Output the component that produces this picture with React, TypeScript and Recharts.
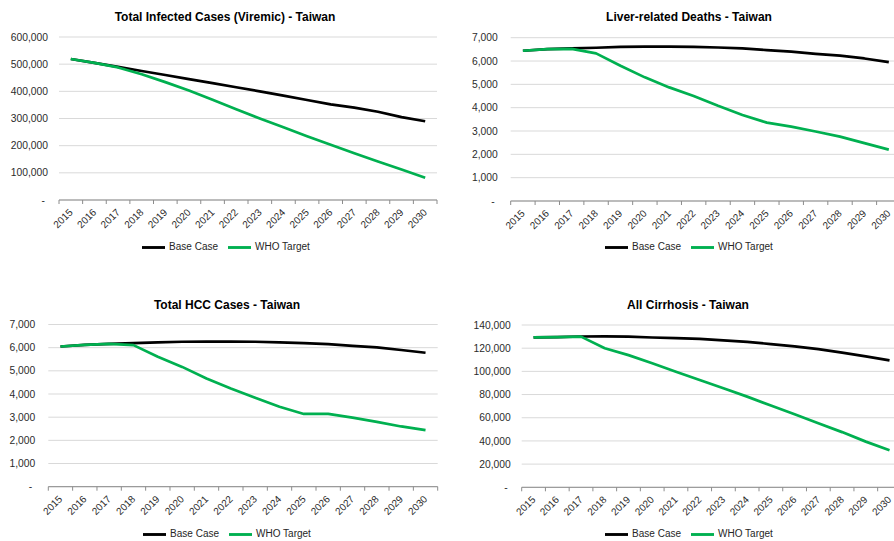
import React from 'react';
import { LineChart, Line, XAxis, YAxis, CartesianGrid, Legend } from 'recharts';

const years = ['2015', '2016', '2017', '2018', '2019', '2020', '2021', '2022', '2023', '2024', '2025', '2026', '2027', '2028', '2029', '2030'];

const infectedBase = [519000, 505000, 490000, 475000, 460000, 445000, 430000, 415000, 400000, 384000, 368000, 352000, 340000, 325000, 305000, 290000];
const infectedWho = [519000, 505000, 488000, 463000, 434000, 403000, 369000, 334000, 300000, 268000, 235000, 203000, 172000, 142000, 112000, 82000];

const deathsBase = [6440, 6510, 6540, 6570, 6610, 6620, 6620, 6610, 6580, 6540, 6470, 6400, 6310, 6230, 6110, 5950];
const deathsWho = [6440, 6510, 6520, 6330, 5800, 5300, 4870, 4500, 4080, 3690, 3360, 3190, 2980, 2760, 2480, 2200];

const hccBase = [6050, 6120, 6165, 6195, 6230, 6255, 6260, 6260, 6255, 6230, 6195, 6150, 6080, 6010, 5900, 5780];
const hccWho = [6050, 6120, 6165, 6110, 5610, 5170, 4670, 4240, 3840, 3450, 3140, 3140, 2980, 2800, 2600, 2440];

const cirrBase = [129300, 129500, 130100, 130200, 129900, 129200, 128600, 128100, 126800, 125500, 123500, 121600, 119200, 116100, 113000, 109500];
const cirrWho = [129300, 129600, 130000, 120000, 114000, 107000, 99700, 92500, 85400, 78200, 70500, 63000, 55200, 47600, 39400, 32000];

const infectedTicks = [0, 100000, 200000, 300000, 400000, 500000, 600000];
const deathsTicks = [0, 1000, 2000, 3000, 4000, 5000, 6000, 7000];
const hccTicks = [0, 1000, 2000, 3000, 4000, 5000, 6000, 7000];
const cirrTicks = [0, 20000, 40000, 60000, 80000, 100000, 120000, 140000];

const seriesNames = ['Base Case', 'WHO Target'];

const GREEN = '#00B050';
const AXIS = '#8c8c8c';
const GRID = '#d9d9d9';
const TEXT = '#2b2b2b';

type Panel = {
  title: string;
  base: number[];
  who: number[];
  ticks: number[];
  region: { left: number; top: number; width: number; height: number };
  plot: { left: number; right: number; top: number; bottom: number };
  yGap: number;
  titleCx: number;
  titleY: number;
  legendCx: number;
  legendY: number;
};

const panels: Panel[] = [
  {
    title: 'Total Infected Cases (Viremic) - Taiwan',
    base: infectedBase,
    who: infectedWho,
    ticks: infectedTicks,
    region: { left: 0, top: 0, width: 445, height: 270 },
    plot: { left: 59, right: 437, top: 37, bottom: 200 },
    yGap: 11,
    titleCx: 225,
    titleY: 17,
    legendCx: 231,
    legendY: 247,
  },
  {
    title: 'Liver-related Deaths - Taiwan',
    base: deathsBase,
    who: deathsWho,
    ticks: deathsTicks,
    region: { left: 444, top: 0, width: 460, height: 270 },
    plot: { left: 510.7, right: 901, top: 37.7, bottom: 201 },
    yGap: 13,
    titleCx: 689,
    titleY: 17,
    legendCx: 694,
    legendY: 247,
  },
  {
    title: 'Total HCC Cases - Taiwan',
    base: hccBase,
    who: hccWho,
    ticks: hccTicks,
    region: { left: 0, top: 285, width: 445, height: 256 },
    plot: { left: 48.3, right: 437.7, top: 324.5, bottom: 486.7 },
    yGap: 13,
    titleCx: 227,
    titleY: 305,
    legendCx: 232,
    legendY: 534,
  },
  {
    title: 'All Cirrhosis - Taiwan',
    base: cirrBase,
    who: cirrWho,
    ticks: cirrTicks,
    region: { left: 444, top: 285, width: 460, height: 256 },
    plot: { left: 521.7, right: 901.4, top: 325, bottom: 487.3 },
    yGap: 11,
    titleCx: 688,
    titleY: 305,
    legendCx: 694,
    legendY: 534,
  },
];

const fmt = (v: number) => (v === 0 ? '-' : v.toLocaleString('en-US'));

function ChartPanel({ p }: { p: Panel }) {
  const data = years.map((y, i) => ({ year: y, base: p.base[i], who: p.who[i] }));
  const W = p.region.width;
  const H = p.region.height;
  const plotW = p.plot.right - p.plot.left;
  const bw = plotW / years.length;
  const marginTop = p.plot.top - p.region.top;
  const marginRight = W - (p.plot.right - p.region.left);
  const yAxisW = p.plot.left - p.region.left;
  const xAxisH = H - (p.plot.bottom - p.region.top);
  const last = years.length - 1;

  const renderXTick = (props: any) => {
    const { x, y, payload, index } = props;
    const px = x + 2.5;
    const py = y + 13;
    return (
      <g>
        <line x1={x - bw / 2} x2={x - bw / 2} y1={y} y2={y + 4} stroke={AXIS} strokeWidth={1} />
        {index === last ? (
          <line x1={x + bw / 2} x2={x + bw / 2} y1={y} y2={y + 4} stroke={AXIS} strokeWidth={1} />
        ) : null}
        <text
          x={px}
          y={py}
          textAnchor="end"
          transform={`rotate(-45, ${px}, ${py})`}
          fontSize={10}
          fill={TEXT}
        >
          {payload.value}
        </text>
      </g>
    );
  };

  const renderYTick = (props: any) => {
    const { x, y, payload } = props;
    const isZero = payload.value === 0;
    return (
      <text
        x={x - p.yGap - (isZero ? 3 : 0)}
        y={y}
        dy="0.35em"
        textAnchor="end"
        fontSize={10.3}
        fill={TEXT}
      >
        {fmt(payload.value)}
      </text>
    );
  };

  return (
    <>
      <div
        style={{
          position: 'absolute',
          left: p.titleCx - 200,
          top: p.titleY - 7,
          width: 400,
          lineHeight: '14px',
          textAlign: 'center',
          fontSize: 12,
          fontWeight: 'bold',
          color: '#000',
          whiteSpace: 'nowrap',
        }}
      >
        {p.title}
      </div>
      <div style={{ position: 'absolute', left: p.region.left, top: p.region.top }}>
        <LineChart
          width={W}
          height={H}
          data={data}
          margin={{ top: marginTop, right: marginRight, bottom: 0, left: 0 }}
        >
          <CartesianGrid horizontal vertical={false} stroke={GRID} strokeWidth={1} />
          <XAxis
            dataKey="year"
            height={xAxisH}
            padding={{ left: bw / 2, right: bw / 2 }}
            interval={0}
            tickSize={0}
            tickMargin={0}
            tickLine={false}
            axisLine={{ stroke: AXIS, strokeWidth: 1 }}
            tick={renderXTick}
          />
          <YAxis
            width={yAxisW}
            domain={[0, p.ticks[p.ticks.length - 1]]}
            ticks={p.ticks}
            interval={0}
            axisLine={false}
            tickLine={false}
            tickSize={0}
            tickMargin={0}
            tick={renderYTick}
          />
          <Legend
            layout="horizontal"
            verticalAlign="middle"
            align="center"
            iconSize={23}
            wrapperStyle={{
              top: p.legendY - p.region.top - 11.5,
              left: p.legendCx - p.region.left - 110,
              width: 220,
              fontSize: 10,
              lineHeight: '12px',
            }}
            formatter={(v: any) => <span style={{ color: '#262626' }}>{v}</span>}
          />
          <Line
            type="linear"
            dataKey="base"
            name={seriesNames[0]}
            stroke="#000000"
            strokeWidth={2.7}
            dot={false}
            activeDot={false}
            legendType="plainline"
            isAnimationActive={false}
            strokeLinejoin="round"
          />
          <Line
            type="linear"
            dataKey="who"
            name={seriesNames[1]}
            stroke={GREEN}
            strokeWidth={2.7}
            dot={false}
            activeDot={false}
            legendType="plainline"
            isAnimationActive={false}
            strokeLinejoin="round"
          />
        </LineChart>
      </div>
    </>
  );
}

export default function App() {
  return (
    <div
      style={{
        position: 'absolute',
        left: 0,
        top: 0,
        width: 894,
        height: 541,
        overflow: 'hidden',
        background: '#fff',
        fontFamily: "'Liberation Sans', Arial, sans-serif",
      }}
    >
      {panels.map((p, i) => (
        <ChartPanel key={i} p={p} />
      ))}
    </div>
  );
}
